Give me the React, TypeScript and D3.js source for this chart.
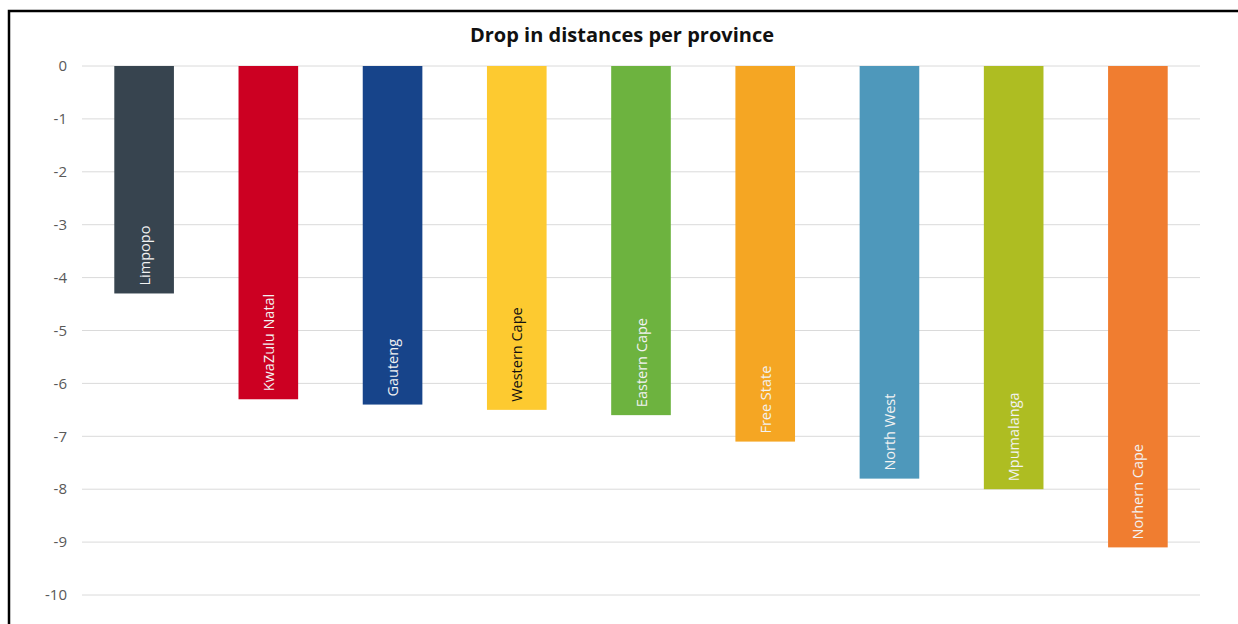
import React from "react";
import * as d3 from "d3";

// Provinces, ordered by drop size
const provinces = [
  "Limpopo",
  "KwaZulu Natal",
  "Gauteng",
  "Western Cape",
  "Eastern Cape",
  "Free State",
  "North West",
  "Mpumalanga",
  "Norhern Cape",
];
const drops = [-4.3, -6.3, -6.4, -6.5, -6.6, -7.1, -7.8, -8.0, -9.1];
const barColors = [
  "#37444f",
  "#cc0022",
  "#17448a",
  "#fdca30",
  "#6db33f",
  "#f5a623",
  "#4e98bb",
  "#aebd22",
  "#f07d30",
];
const labelColors = [
  "#f2f2f2",
  "#f2f2f2",
  "#f2f2f2",
  "#111111",
  "#f2f2f2",
  "#f2f2f2",
  "#f2f2f2",
  "#f2f2f2",
  "#f2f2f2",
];
const yTicks = [0, -1, -2, -3, -4, -5, -6, -7, -8, -9, -10];
const title = "Drop in distances per province";

const W = 1238;
const H = 624;
const plot = { left: 82, right: 1200, top: 66, bottom: 595 };
const FONT = "'Open Sans', 'Noto Sans', sans-serif";

export default function App() {
  const x = d3
    .scaleBand<string>()
    .domain(provinces)
    .range([plot.left, plot.right])
    .paddingInner(0.52)
    .paddingOuter(0.26);
  const y = d3.scaleLinear().domain([0, -10]).range([plot.top, plot.bottom]);

  return (
    <svg
      width={W}
      height={H}
      style={{ position: "fixed", left: 0, top: 0, background: "#fff" }}
      fontFamily={FONT}
    >
      <rect x={0} y={0} width={W} height={H} fill="#fff" />
      {/* frame */}
      <rect
        x={9}
        y={11}
        width={W + 20}
        height={H + 20}
        fill="none"
        stroke="#000"
        strokeWidth={2.5}
      />
      <text
        x={622}
        y={42}
        textAnchor="middle"
        fontSize={20}
        fontWeight={700}
        fill="#111"
      >
        {title}
      </text>
      {/* gridlines and y labels */}
      {yTicks.map((t) => (
        <g key={t}>
          <line
            x1={plot.left}
            x2={plot.right}
            y1={y(t)}
            y2={y(t)}
            stroke="#dadada"
            strokeWidth={1}
          />
          <text
            x={67}
            y={y(t)}
            dy="0.35em"
            textAnchor="end"
            fontSize={15}
            fill="#595959"
          >
            {t}
          </text>
        </g>
      ))}
      {/* bars */}
      {provinces.map((p, i) => {
        const bx = x(p) as number;
        const bw = x.bandwidth();
        const y0 = y(0);
        const y1 = y(drops[i]);
        const cx = bx + bw / 2;
        const ly = y1 - 8;
        return (
          <g key={p}>
            <rect x={bx} y={y0} width={bw} height={y1 - y0} fill={barColors[i]} />
            <text
              transform={`translate(${cx},${ly}) rotate(-90)`}
              textAnchor="start"
              dominantBaseline="central"
              fontSize={14.5}
              fill={labelColors[i]}
            >
              {p}
            </text>
          </g>
        );
      })}
    </svg>
  );
}
